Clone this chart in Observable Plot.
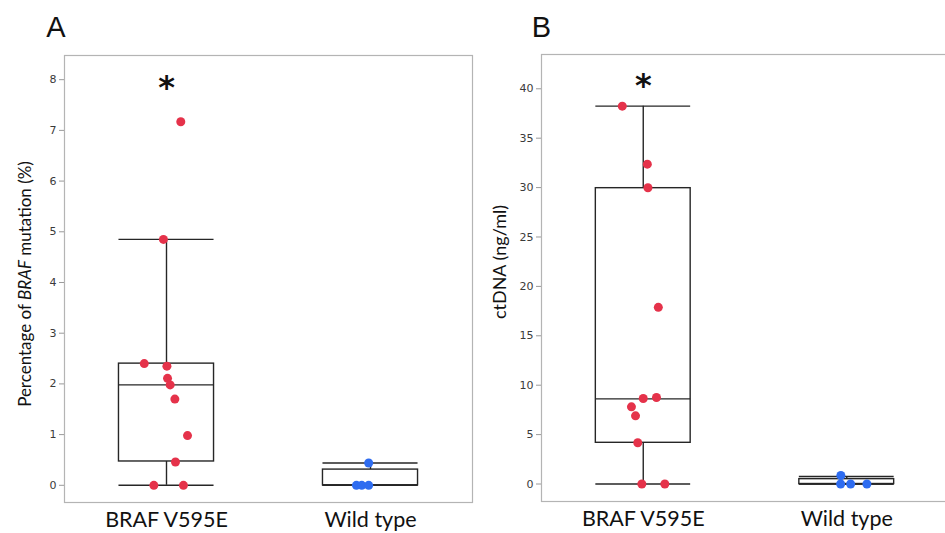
<!DOCTYPE html>
<html><head><meta charset="utf-8">
<script src="https://cdn.jsdelivr.net/npm/d3@7"></script>
<script src="https://cdn.jsdelivr.net/npm/@observablehq/plot@0.6"></script>
<style>
body{margin:0;background:#fff;}
#chart{position:relative;width:945px;height:533px;overflow:hidden;background:#fff;}
#chart svg{position:absolute;top:0;}
</style></head><body><div id="chart"></div>
<script>
const categories = ["BRAF V595E", "Wild type"];
const panelLabels = ["A", "B"];
const yTicksA = [0, 1, 2, 3, 4, 5, 6, 7, 8];
const yTicksB = [0, 5, 10, 15, 20, 25, 30, 35, 40];

// Panel A: percentage of BRAF mutation (%)
const aBrafValues = [7.17, 4.85, 2.40, 2.35, 2.11, 1.98, 1.70, 0.98, 0.46, 0, 0];
const aBrafJitter = [0.070, -0.015, -0.109, 0.002, 0.005, 0.018, 0.041, 0.103, 0.044, -0.062, 0.083];
const aWildValues = [0.44, 0, 0, 0];
const aWildJitter = [-0.009, -0.069, -0.043, -0.009];
const aLow = [0, 0];
const aQ1 = [0.47, 0];
const aMed = [1.98, 0];
const aQ3 = [2.40, 0.31];
const aHigh = [4.85, 0.44];
const aStar = [7.92];

// Panel B: ctDNA (ng/ml)
const bBrafValues = [38.24, 32.37, 29.98, 17.88, 8.65, 8.76, 7.81, 6.90, 4.17, 0, 0];
const bBrafJitter = [-0.103, 0.020, 0.023, 0.074, 0.000, 0.065, -0.058, -0.038, -0.027, -0.007, 0.106];
const bWildValues = [0.86, 0, 0, 0];
const bWildJitter = [-0.029, -0.030, 0.019, 0.099];
const bLow = [0, 0];
const bQ1 = [4.17, 0];
const bMed = [8.62, 0];
const bQ3 = [29.94, 0.49];
const bHigh = [38.24, 0.76];
const bStar = [40.68];

const RED = "#e5324a";
const BLUE = "#2e6cf0";
const BOXC = "#262626";
const HW = 0.233;

function makePanel(o) {
  const boxes = categories.map((c, i) => ({i, low: o.low[i], q1: o.q1[i], med: o.med[i], q3: o.q3[i], high: o.high[i]}));
  const red = o.braf.map((v, k) => ({x: 0 + o.brafJ[k], y: v}));
  const blue = o.wild.map((v, k) => ({x: 1 + o.wildJ[k], y: v}));
  const star = o.star.map(v => ({x: 0, y: v}));
  const sw = 1.4;
  return Plot.plot({
    width: o.width, height: 533,
    marginLeft: o.ml, marginRight: o.mr, marginTop: o.mt, marginBottom: o.mb,
    style: {background: "none", color: "#444", overflow: "visible"},
    x: {domain: [-0.5, 1.5]},
    y: {domain: o.yDomain},
    marks: [
      Plot.frame({stroke: "#b4b4b4", strokeWidth: 1.2}),
      Plot.axisY({ticks: o.ticks, tickSize: 5, tickPadding: 3, stroke: "#9a9a9a", fill: "#3a3a3a", fontSize: 11, fontFamily: "DejaVu Sans", label: null}),
      Plot.axisX({ticks: [0, 1], tickFormat: i => categories[i], tickSize: 0, tickPadding: 9, fontSize: 21.5, fontFamily: "Lato", fill: "#111", label: null}),
      Plot.ruleX(boxes, {x: "i", y1: "q3", y2: "high", stroke: BOXC, strokeWidth: sw}),
      Plot.ruleX(boxes, {x: "i", y1: "low", y2: "q1", stroke: BOXC, strokeWidth: sw}),
      Plot.rect(boxes, {x1: d => d.i - HW, x2: d => d.i + HW, y1: "q1", y2: "q3", fill: "white", stroke: BOXC, strokeWidth: sw}),
      Plot.ruleY(boxes, {y: "med", x1: d => d.i - HW, x2: d => d.i + HW, stroke: BOXC, strokeWidth: sw}),
      Plot.ruleY(boxes, {y: "high", x1: d => d.i - HW, x2: d => d.i + HW, stroke: BOXC, strokeWidth: sw}),
      Plot.ruleY(boxes, {y: "low", x1: d => d.i - HW, x2: d => d.i + HW, stroke: BOXC, strokeWidth: sw}),
      Plot.dot(red, {x: "x", y: "y", r: 4.5, fill: RED, stroke: null}),
      Plot.dot(blue, {x: "x", y: "y", r: 4.5, fill: BLUE, stroke: null}),
      Plot.text(star, {x: "x", y: "y", text: () => "*", fontSize: 32, fontWeight: "bold", fontFamily: "DejaVu Sans", dy: 4, fill: "#111"})
    ]
  });
}

const chart = document.getElementById("chart");

const svgA = makePanel({
  width: 474, ml: 64, mr: 2, mt: 55, mb: 31,
  yDomain: [-0.339, 8.477], ticks: yTicksA,
  braf: aBrafValues, brafJ: aBrafJitter, wild: aWildValues, wildJ: aWildJitter,
  low: aLow, q1: aQ1, med: aMed, q3: aQ3, high: aHigh, star: aStar
});
svgA.style.left = "0px";
chart.appendChild(svgA);

const svgB = makePanel({
  width: 474, ml: 67, mr: 0, mt: 54, mb: 32,
  yDomain: [-1.771, 43.47], ticks: yTicksB,
  braf: bBrafValues, brafJ: bBrafJitter, wild: bWildValues, wildJ: bWildJitter,
  low: bLow, q1: bQ1, med: bMed, q3: bQ3, high: bHigh, star: bStar
});
svgB.style.left = "474px";
chart.appendChild(svgB);

// Panel letters
d3.select(svgA).append("text").attr("x", 56).attr("y", 36.5)
  .attr("font-family", "Liberation Sans, Arial, sans-serif").attr("font-size", 29).attr("fill", "#111").text(panelLabels[0]);
d3.select(svgB).append("text").attr("x", 67.5).attr("y", 36.5)
  .attr("font-family", "Liberation Sans, Arial, sans-serif").attr("font-size", 29).attr("fill", "#111").text(panelLabels[1]);

// Y titles
const tA = d3.select(svgA).append("text")
  .attr("transform", "translate(31,284) rotate(-90)")
  .attr("text-anchor", "middle").attr("font-family", "Lato").attr("font-size", 17).attr("fill", "#111");
tA.append("tspan").text("Percentage of ");
tA.append("tspan").attr("font-style", "italic").text("BRAF");
tA.append("tspan").text(" mutation (%)");

d3.select(svgB).append("text")
  .attr("transform", "translate(32,262) rotate(-90)")
  .attr("text-anchor", "middle").attr("font-family", "Lato").attr("font-size", 18).attr("fill", "#111")
  .text("ctDNA (ng/ml)");
</script></body></html>
